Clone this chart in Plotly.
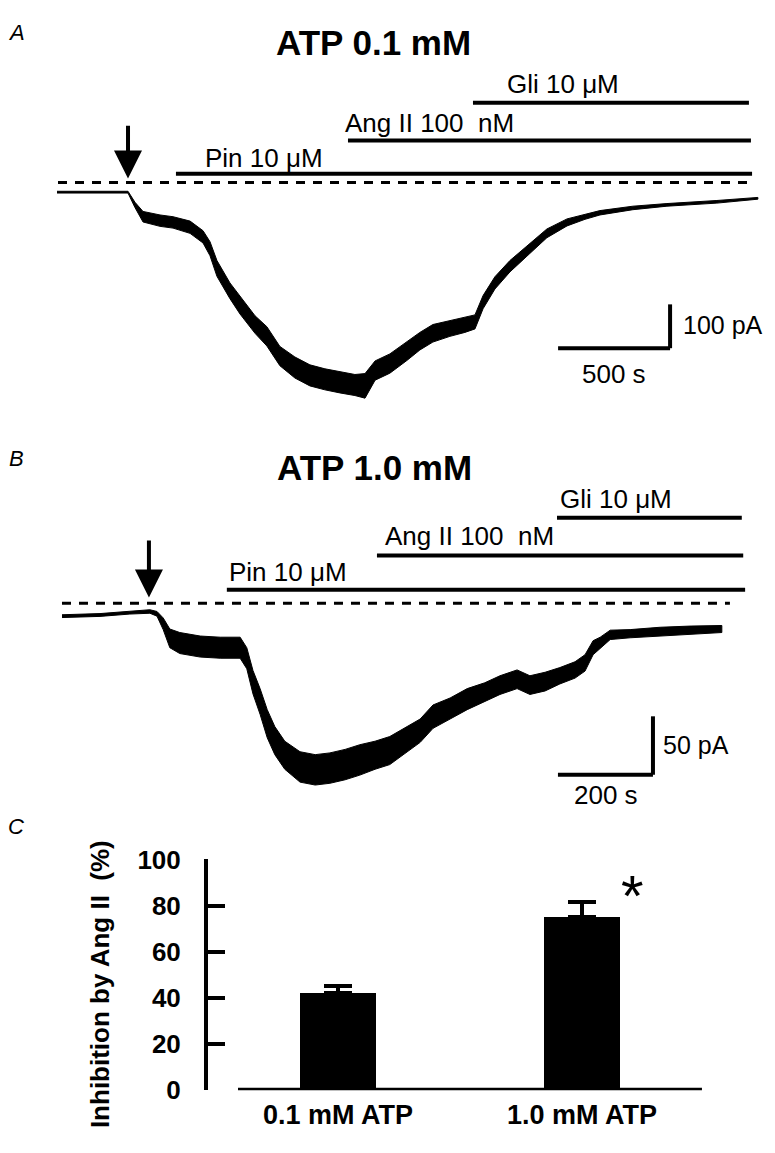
import plotly.graph_objects as go

W, H = 775, 1153
FONT = "Liberation Sans, Arial, Helvetica, sans-serif"

# ---------------- DATA ----------------
# Panel A: whole-cell current trace (ATP 0.1 mM); time in s, current in pA,
# noise = half-amplitude of the recorded noise band (pA)
a_time = [0, 317, 348, 384, 460, 518, 594, 652, 683, 714, 772, 817, 884, 937, 995,
          1062, 1129, 1196, 1263, 1330, 1375, 1420, 1486, 1562, 1620, 1678, 1754,
          1821, 1866, 1902, 1955, 2022, 2098, 2187, 2277, 2357, 2424, 2571, 2723,
          2946, 3129]
a_current = [-22, -22, -51, -78, -87, -91, -102, -124, -151, -196, -247, -280, -324,
             -351, -396, -422, -440, -449, -456, -462, -464, -429, -413, -384, -362,
             -344, -333, -324, -318, -273, -229, -191, -156, -116, -91, -78, -69,
             -58, -51, -44, -36]
a_noise = [2, 2, 6, 12, 13, 13, 14, 14, 16, 18, 18, 20, 20, 22, 22, 24, 24, 24, 24, 24,
           28, 22, 22, 22, 20, 20, 18, 18, 16, 15, 14, 13, 12, 10, 8, 6, 5, 4, 3, 3, 2]
a_drugs = ["Pin 10 μM", "Ang II 100  nM", "Gli 10 μM"]
a_drug_start = [531, 1299, 1857]
a_drug_end = [3103, 3098, 3089]
a_arrow_time = 317
a_baseline_end = 3116
a_scale_s, a_scale_pA = 500, 100

# Panel B: ATP 1.0 mM
b_time = [0, 80, 143, 185, 200, 213, 227, 248, 291, 333, 375, 389, 402, 417, 432, 448,
          469, 501, 533, 564, 596, 627, 659, 690, 722, 754, 781, 817, 853, 890, 922,
          958, 985, 1017, 1048, 1080, 1101, 1118, 1133, 1154, 1196, 1259, 1322, 1389]
b_current = [-11, -10, -8, -7, -9, -17.5, -30, -34, -37, -38, -38, -47, -67.5, -84,
             -103, -117.5, -130, -140, -142.5, -141, -138, -134, -130, -126, -117.5,
             -109, -97, -90, -82, -76, -70, -65, -70, -67, -62, -57, -51, -38, -34,
             -27, -26, -24, -23, -22]
b_noise = [1.2, 1.2, 1.2, 1.5, 2, 5, 8, 9, 9, 9, 9, 9, 10, 11, 12, 12, 12, 13, 13, 13,
           13, 13, 12, 12, 11, 10, 10, 9, 9, 8, 8, 8, 8, 8, 7, 7, 7, 6, 5, 4,
           3.5, 3.5, 3.5, 3]
b_drugs = ["Pin 10 μM", "Ang II 100  nM", "Gli 10 μM"]
b_drug_start = [347, 663, 1042]
b_drug_end = [1438, 1434, 1431]
b_arrow_time = 183
b_baseline_end = 1406
b_scale_s, b_scale_pA = 200, 50

# Panel C: summary
c_categories = ["0.1 mM ATP", "1.0 mM ATP"]
c_values = [42, 75]
c_errors = [3, 6.5]
c_ticks = [0, 20, 40, 60, 80, 100]

# ---------------- HELPERS ----------------
def px(x):
    return x / W

def py(y):
    return 1 - y / H

fig = go.Figure()

def band(t, c, n, xa, ya):
    up = [ci + ni for ci, ni in zip(c, n)]
    lo = [ci - ni for ci, ni in zip(c, n)]
    fig.add_trace(go.Scatter(x=t + t[::-1], y=up + lo[::-1], fill="toself",
                             fillcolor="black", line=dict(color="black", width=1),
                             mode="lines", xaxis=xa, yaxis=ya, showlegend=False,
                             hoverinfo="skip"))

band(a_time, a_current, a_noise, "x", "y")
band(b_time, b_current, b_noise, "x2", "y2")

# Panel C bars
fig.add_trace(go.Bar(x=[1, 2], y=c_values, width=0.311, marker=dict(color="black", line=dict(width=0)),
                     error_y=dict(type="data", array=c_errors, arrayminus=[0, 0], symmetric=False,
                                  thickness=4, width=14, color="black"),
                     xaxis="x3", yaxis="y3", showlegend=False))

shapes = []
annotations = []

def hline(x0, x1, y, xr, yr, width=4, dash=None):
    shapes.append(dict(type="line", x0=x0, x1=x1, y0=y, y1=y, xref=xr, yref=yr,
                       line=dict(color="black", width=width, dash=dash)))

def vline(x, y0, y1, xr, yr, width=4):
    shapes.append(dict(type="line", x0=x, x1=x, y0=y0, y1=y1, xref=xr, yref=yr,
                       line=dict(color="black", width=width)))

def text(s, x, y, size=26, xanchor="left", bold=False, italic=False, angle=0):
    if bold:
        s = "<b>" + s + "</b>"
    if italic:
        s = "<i>" + s + "</i>"
    annotations.append(dict(text=s, x=px(x), y=py(y), xref="paper", yref="paper",
                            showarrow=False, xanchor=xanchor, yanchor="middle",
                            textangle=angle,
                            font=dict(family=FONT, size=size, color="black")))

# ---- Panel A ----
hline(4.5, a_baseline_end, 0, "x", "y", width=3, dash="9px,8px")
a_levels = [20, 95.6, 182]
for s0, s1, lv in zip(a_drug_start, a_drug_end, a_levels):
    hline(s0, s1, lv, "x", "y", width=4)
for lab, (tx, ty) in zip(a_drugs, [(203, 147), (343, 111), (505, 71)]):
    text(lab, tx, ty)
annotations.append(dict(x=a_arrow_time, y=9, ax=a_arrow_time, ay=133, xref="x", yref="y",
                        axref="x", ayref="y", showarrow=True, arrowhead=2, arrowsize=1.4,
                        arrowwidth=4, arrowcolor="black", text=""))
sx0 = 2237
sy0 = -378
hline(sx0, sx0 + a_scale_s, sy0, "x", "y", width=4)
vline(sx0 + a_scale_s, sy0, sy0 + a_scale_pA, "x", "y", width=4)
text("100 pA", 681, 318, size=25)
text("500 s", 614, 369, xanchor="center")
text("ATP 0.1 mM", 373, 28, size=35, xanchor="center", bold=True)
text("A", 16, 18, size=22, xanchor="center", italic=True)

# ---- Panel B ----
hline(0, b_baseline_end, 0, "x2", "y2", width=3, dash="9px,8px")
b_levels = [11.7, 40.8, 73.3]
for s0, s1, lv in zip(b_drug_start, b_drug_end, b_levels):
    hline(s0, s1, lv, "x2", "y2", width=4)
for lab, (tx, ty) in zip(b_drugs, [(227, 572), (383, 535), (558, 497)]):
    text(lab, tx, ty)
annotations.append(dict(x=b_arrow_time, y=5, ax=b_arrow_time, ay=55, xref="x2", yref="y2",
                        axref="x2", ayref="y2", showarrow=True, arrowhead=2, arrowsize=1.4,
                        arrowwidth=4, arrowcolor="black", text=""))
bx0 = 1044
by0 = -146.7
hline(bx0, bx0 + b_scale_s, by0, "x2", "y2", width=4)
vline(bx0 + b_scale_s, by0, by0 + b_scale_pA, "x2", "y2", width=4)
text("50 pA", 661, 750, size=25)
text("200 s", 606, 801, xanchor="center")
text("ATP 1.0 mM", 374, 465, size=35, xanchor="center", bold=True)
text("B", 16, 455, size=22, xanchor="center", italic=True)

# ---- Panel C ----
hline(0.590, 2.492, 0, "x3", "y3", width=5)
annotations.append(dict(text="*", x=2.209, y=89.5, xref="x3", yref="y3", showarrow=False,
                        xanchor="center", yanchor="middle", yshift=-12,
                        font=dict(family=FONT, size=58, color="black")))
text("Inhibition by Ang II  (%)", 100, 995, size=26, xanchor="center", bold=True, angle=-90)
text("C", 16, 833, size=22, xanchor="center", italic=True)

fig.update_layout(
    width=W, height=H, margin=dict(l=0, r=0, t=0, b=0),
    paper_bgcolor="white", plot_bgcolor="white",
    shapes=shapes, annotations=annotations,
    font=dict(family=FONT, color="black"),
    bargap=0,
    xaxis=dict(domain=[0, 1], range=[-254.5, 3205.4], visible=False),
    yaxis=dict(domain=[py(420), py(50)], range=[-551.1, 271.1], visible=False),
    xaxis2=dict(domain=[0, 1], range=[-130.5, 1500.9], visible=False, anchor="y2"),
    yaxis2=dict(domain=[py(820), py(440)], range=[-180, 136.7], visible=False, anchor="x2"),
    xaxis3=dict(domain=[px(208), px(740)], range=[0.467, 2.648], anchor="y3",
                tickvals=[1, 2], ticktext=["<b>" + c + "</b>" for c in c_categories],
                tickfont=dict(family=FONT, size=27, color="black"), ticks="",
                showline=False, showgrid=False, zeroline=False, ticklabelstandoff=6),
    yaxis3=dict(domain=[py(1104), py(867)], range=[0, 100], anchor="x3",
                tickvals=c_ticks, ticktext=["<b>%d</b>" % v for v in c_ticks],
                tickfont=dict(family=FONT, size=26, color="black"),
                ticks="inside", ticklen=17, tickwidth=4, tickcolor="black",
                showline=True, linewidth=4, linecolor="black",
                showgrid=False, zeroline=False, ticklabelstandoff=18),
)

fig.write_html("out.html", config={"displayModeBar": False},
               post_script="document.body.style.margin='0px';")
